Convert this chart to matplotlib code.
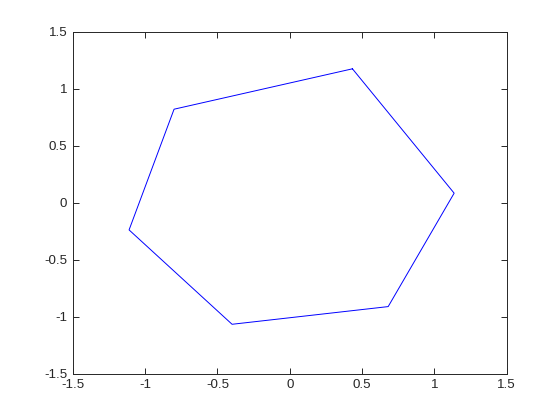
import matplotlib
matplotlib.use("Agg")
import matplotlib.pyplot as plt

x_vals = [0.433, 1.136, 0.680, -0.399, -1.111, -0.800, 0.433]
y_vals = [1.173, 0.083, -0.911, -1.066, -0.239, 0.819, 1.173]
ticks = [-1.5, -1, -0.5, 0, 0.5, 1, 1.5]
tick_labels = ["-1.5", "-1", "-0.5", "0", "0.5", "1", "1.5"]

plt.rcParams['font.family'] = ['Liberation Sans', 'DejaVu Sans']
fig = plt.figure(figsize=(5.6, 4.2), dpi=100)
ax = fig.add_axes([0.13, 0.11, 0.775, 0.815])
ax.plot(x_vals, y_vals, color=(0, 0, 1), linewidth=0.7)
ax.set_xlim(-1.5, 1.5)
ax.set_ylim(-1.5, 1.5)
ax.set_xticks(ticks)
ax.set_xticklabels(tick_labels)
ax.set_yticks(ticks)
ax.set_yticklabels(tick_labels)
gray = (0.15, 0.15, 0.15)
for s in ax.spines.values():
    s.set_color(gray)
    s.set_linewidth(0.7)
ax.tick_params(direction='in', length=4, width=0.7, color=gray, labelcolor=gray,
               labelsize=9.6, top=True, right=True, pad=4)
fig.savefig("out.png", dpi=100)
